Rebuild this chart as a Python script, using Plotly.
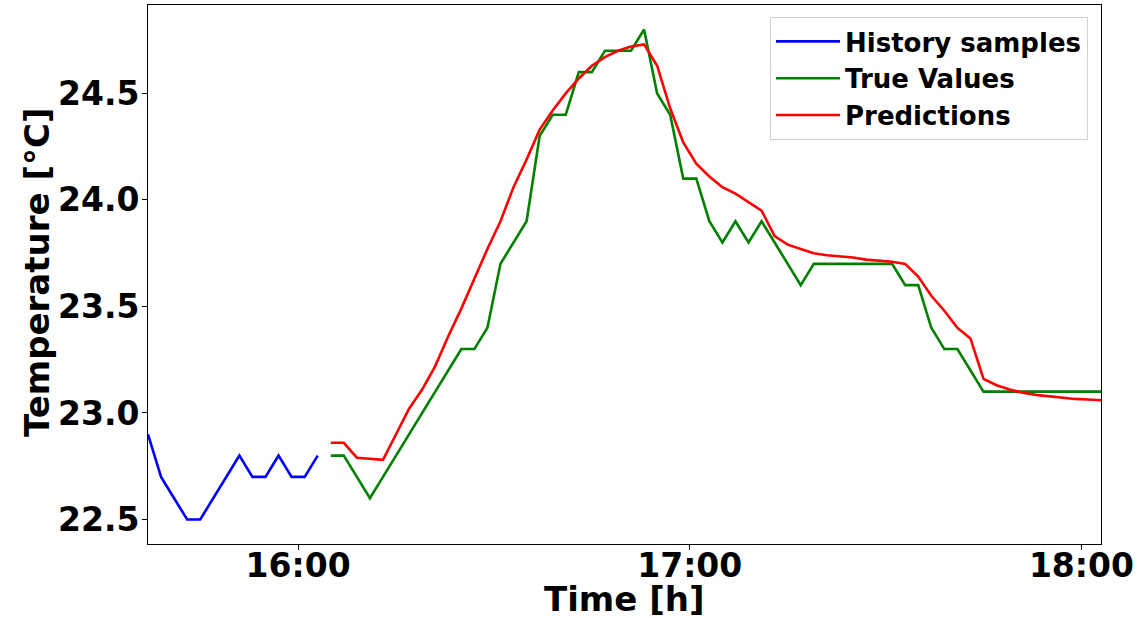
import pandas as pd
import plotly.graph_objects as go

# ---- data ----
history_start = "2019-01-01 15:37"
history_values = [22.9, 22.7, 22.6, 22.5, 22.5, 22.6, 22.7, 22.8, 22.7, 22.7, 22.8, 22.7, 22.7, 22.8]

future_start = "2019-01-01 16:05"
true_values = [
    22.8, 22.8, 22.7, 22.6, 22.7, 22.8, 22.9, 23.0, 23.1, 23.2,
    23.3, 23.3, 23.4, 23.7, 23.8, 23.9, 24.3, 24.4, 24.4, 24.6,
    24.6, 24.7, 24.7, 24.7, 24.8, 24.5, 24.4, 24.1, 24.1, 23.9,
    23.8, 23.9, 23.8, 23.9, 23.8, 23.7, 23.6, 23.7, 23.7, 23.7,
    23.7, 23.7, 23.7, 23.7, 23.6, 23.6, 23.4, 23.3, 23.3, 23.2,
    23.1, 23.1, 23.1, 23.1, 23.1, 23.1, 23.1, 23.1, 23.1, 23.1,
]
predictions = [
    22.86, 22.86, 22.79, 22.785, 22.78, 22.90, 23.02, 23.11, 23.22, 23.36,
    23.49, 23.63, 23.77, 23.90, 24.06, 24.19, 24.33, 24.42, 24.50, 24.57,
    24.63, 24.67, 24.70, 24.72, 24.73, 24.63, 24.43, 24.27, 24.17, 24.11,
    24.06, 24.03, 23.99, 23.95, 23.83, 23.79, 23.77, 23.75, 23.74, 23.735,
    23.73, 23.72, 23.715, 23.71, 23.70, 23.64, 23.55, 23.48, 23.40, 23.35,
    23.16, 23.13, 23.11, 23.095, 23.085, 23.078, 23.07, 23.066, 23.063, 23.06,
]
x_ticks = ["2019-01-01 16:00", "2019-01-01 17:00", "2019-01-01 18:00"]
x_tick_labels = ["16:00", "17:00", "18:00"]
y_ticks = [22.5, 23.0, 23.5, 24.0, 24.5]

history_times = pd.date_range(history_start, periods=len(history_values), freq="2min")
future_times = pd.date_range(future_start, periods=len(true_values), freq="2min")

FONT = "DejaVu Sans"
W, H = 1137, 618
ML, MR, MT, MB = 148, 36, 5, 74
PW, PH = W - ML - MR, H - MT - MB


def px_to_paper_x(px):
    return (px - ML) / PW


def px_to_paper_y(py):
    return 1 - (py - MT) / PH


fig = go.Figure()
fig.add_trace(go.Scatter(x=history_times, y=history_values, mode="lines",
                         name="<b>History samples</b>", line=dict(color="#0000ff", width=2.6)))
fig.add_trace(go.Scatter(x=future_times, y=true_values, mode="lines",
                         name="<b>True Values</b>", line=dict(color="#008000", width=2.6)))
fig.add_trace(go.Scatter(x=future_times, y=predictions, mode="lines",
                         name="<b>Predictions</b>", line=dict(color="#ff0000", width=2.6)))

fig.update_layout(
    width=W, height=H,
    margin=dict(l=ML, r=MR, t=MT, b=MB, autoexpand=False),
    paper_bgcolor="white", plot_bgcolor="white",
    font=dict(family=FONT, color="black"),
    showlegend=True,
    legend=dict(
        x=px_to_paper_x(1088), y=px_to_paper_y(17), xanchor="right", yanchor="top",
        font=dict(family=FONT, size=26, color="black"),
        bgcolor="rgba(255,255,255,0.8)", bordercolor="#d0d0d0", borderwidth=1,
        itemwidth=64,
    ),
    annotations=[
        dict(text="<b>Time [h]</b>", xref="paper", yref="paper",
             x=px_to_paper_x(624), y=px_to_paper_y(599), xanchor="center", yanchor="middle",
             showarrow=False, font=dict(family=FONT, size=34, color="black")),
        dict(text="<b>Temperature [°C]</b>", xref="paper", yref="paper", textangle=-90,
             x=px_to_paper_x(37), y=px_to_paper_y(273), xanchor="center", yanchor="middle",
             showarrow=False, font=dict(family=FONT, size=34, color="black")),
    ],
)
fig.update_xaxes(
    range=[history_times[0], future_times[-1]],
    tickvals=pd.to_datetime(x_ticks), ticktext=["<b>%s</b>" % t for t in x_tick_labels],
    tickfont=dict(family=FONT, size=33, color="black"),
    ticks="outside", ticklen=5, tickcolor="black", ticklabelstandoff=-13,
    showline=True, linecolor="black", linewidth=1, mirror=True,
    showgrid=False, zeroline=False, automargin=False,
)
fig.update_yaxes(
    range=[22.385, 24.915],
    tickvals=y_ticks, ticktext=["<b>%.1f</b>" % v for v in y_ticks],
    tickfont=dict(family=FONT, size=33, color="black"),
    ticks="outside", ticklen=5, tickcolor="black", ticklabelstandoff=-4,
    showline=True, linecolor="black", linewidth=1, mirror=True,
    showgrid=False, zeroline=False, automargin=False,
)

fig.write_html("out.html", config={"displayModeBar": False},
               post_script="document.body.style.margin='0';")
